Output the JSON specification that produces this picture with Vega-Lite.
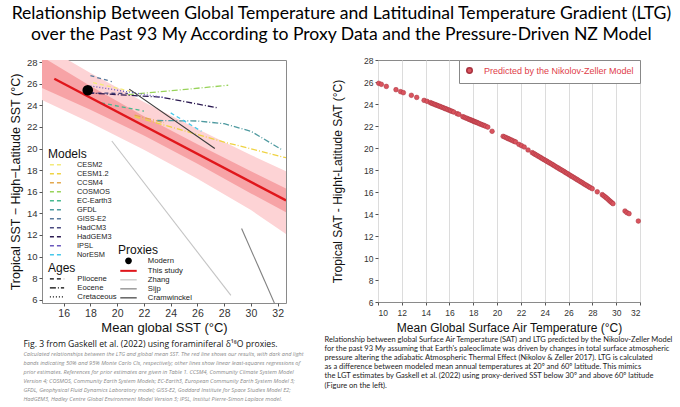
{
  "$schema": "https://vega.github.io/schema/vega-lite/v6.json",
  "background": "white",
  "padding": {"left": 8, "top": 4, "right": 4, "bottom": 0},
  "title": {
    "text": ["Relationship Between Global Temperature and Latitudinal Temperature Gradient (LTG)", "over the Past 93 My According to Proxy Data and the Pressure-Driven NZ Model"],
    "font": "Lato", "fontSize": 17.6, "fontWeight": "normal", "color": "black", "lineHeight": 21, "anchor": "middle", "offset": 12
  },
  "config": {
    "font": "Liberation Sans",
    "view": {"stroke": "#8a8a8a"},
    "axis": {"grid": false, "domain": false, "labelOverlap": false, "titleFontWeight": "normal", "labelColor": "#333", "titleColor": "#111", "tickColor": "#555", "tickSize": 3},
    "legend": {"titleFontSize": 12, "titleFontWeight": "normal", "titleColor": "#111", "titlePadding": 0, "labelFontSize": 7.7, "labelColor": "#222", "symbolSize": 30, "rowPadding": 0, "padding": 0}
  },
  "datasets": {
    "band": [
      {"x": 14.38, "lo95": 24.5, "hi95": 29.6, "lo50": 25.6, "hi50": 28.5},
      {"x": 18, "lo95": 22.4, "hi95": 27.0, "lo50": 23.6, "hi50": 25.8},
      {"x": 22, "lo95": 19.9, "hi95": 24.3, "lo50": 21.2, "hi50": 23.0},
      {"x": 26, "lo95": 17.2, "hi95": 21.8, "lo50": 18.6, "hi50": 20.4},
      {"x": 30, "lo95": 14.3, "hi95": 19.4, "lo50": 15.85, "hi50": 17.9},
      {"x": 32.62, "lo95": 12.1, "hi95": 17.9, "lo50": 14.1, "hi50": 16.3}
    ]
  },
  "resolve": {"scale": {"color": "independent"}, "legend": {"color": "independent"}},
  "spacing": 19,
  "hconcat": [
    {
      "width": 244, "height": 243,
      "title": {
        "text": "Fig. 3 from Gaskell et al. (2022) using foraminiferal δ¹⁸O proxies.",
        "subtitle": [
          "Calculated relationships between the LTG and global mean SST. The red line shows our results, with dark and light",
          "bands indicating 50% and 95% Monte Carlo CIs, respectively; other lines show linear least-squares regressions of",
          "prior estimates. References for prior estimates are given in Table 1. CCSM4, Community Climate System Model",
          "Version 4; COSMOS, Community Earth System Models; EC-Earth3, European Community Earth System Model 3;",
          "GFDL, Geophysical Fluid Dynamics Laboratory model; GISS-E2, Goddard Institute for Space Studies Model E2;",
          "HadGEM3, Hadley Centre Global Environment Model Version 3; IPSL, Institut Pierre-Simon Laplace model."
        ],
        "orient": "bottom", "anchor": "start", "frame": "bounds", "dx": 14, "offset": 5,
        "font": "Open Sans", "fontSize": 8.6, "fontWeight": "normal", "color": "#111",
        "subtitleFont": "Open Sans", "subtitleFontSize": 5.6, "subtitleFontStyle": "italic", "subtitleColor": "#8a8a8a", "subtitleLineHeight": 9, "subtitlePadding": 4
      },
      "layer": [
        {
          "data": {"name": "band"},
          "mark": {"type": "area", "color": "#fdd3d5", "clip": true},
          "encoding": {
            "x": {"field": "x", "type": "quantitative", "scale": {"domain": [14.38, 32.62], "nice": false, "zero": false}, "axis": {"values": [16, 18, 20, 22, 24, 26, 28, 30, 32], "format": "d", "tickCount": 30, "labelOverlap": false, "title": "Mean global SST (°C)", "labelFontSize": 10.5, "titleFontSize": 13, "labelPadding": 2, "titlePadding": 3}},
            "y": {"field": "lo95", "type": "quantitative", "scale": {"domain": [5.7, 28.2], "nice": false, "zero": false}, "axis": {"values": [6, 8, 10, 12, 14, 16, 18, 20, 22, 24, 26, 28], "format": "d", "tickCount": 30, "labelOverlap": false, "title": "Tropical SST − High−Latitude SST (°C)", "labelFontSize": 9.5, "titleFontSize": 12.5, "labelPadding": 2, "titlePadding": 4}},
            "y2": {"field": "hi95"}
          }
        },
        {
          "data": {"name": "band"},
          "mark": {"type": "area", "color": "#f7a3a6", "clip": true},
          "encoding": {
            "x": {"field": "x", "type": "quantitative"},
            "y": {"field": "lo50", "type": "quantitative"},
            "y2": {"field": "hi50"}
          }
        },
        {
          "data": {"values": [
            {"model": "GISS-E2", "age": "Pliocene", "x": 18.0, "y": 26.75},
            {"model": "GISS-E2", "age": "Pliocene", "x": 19.6, "y": 26.2},
            {"model": "CESM2", "age": "Pliocene", "x": 18.2, "y": 26.1},
            {"model": "CESM2", "age": "Pliocene", "x": 21.0, "y": 25.3},
            {"model": "CESM1.2", "age": "Eocene", "x": 21.3, "y": 22.95},
            {"model": "CESM1.2", "age": "Eocene", "x": 24.0, "y": 22.0},
            {"model": "CESM1.2", "age": "Eocene", "x": 28.0, "y": 20.6},
            {"model": "CESM1.2", "age": "Eocene", "x": 32.62, "y": 19.15},
            {"model": "CCSM4", "age": "Eocene", "x": 21.3, "y": 23.1},
            {"model": "CCSM4", "age": "Eocene", "x": 23.5, "y": 22.4},
            {"model": "COSMOS", "age": "Eocene", "x": 20.8, "y": 25.0},
            {"model": "COSMOS", "age": "Eocene", "x": 24.0, "y": 25.35},
            {"model": "COSMOS", "age": "Eocene", "x": 28.3, "y": 25.86},
            {"model": "EC-Earth3", "age": "Pliocene", "x": 18.8, "y": 24.23},
            {"model": "EC-Earth3", "age": "Pliocene", "x": 22.0, "y": 23.47},
            {"model": "GFDL", "age": "Eocene", "x": 23.0, "y": 22.6},
            {"model": "GFDL", "age": "Eocene", "x": 26.0, "y": 22.55},
            {"model": "GFDL", "age": "Eocene", "x": 28.0, "y": 22.3},
            {"model": "GFDL", "age": "Eocene", "x": 30.0, "y": 21.6},
            {"model": "GFDL", "age": "Eocene", "x": 32.3, "y": 19.9},
            {"model": "HadCM3", "age": "Pliocene", "x": 18.0, "y": 25.15},
            {"model": "HadCM3", "age": "Pliocene", "x": 20.8, "y": 25.1},
            {"model": "HadGEM3", "age": "Eocene", "x": 17.8, "y": 25.15},
            {"model": "HadGEM3", "age": "Eocene", "x": 23.3, "y": 24.76},
            {"model": "HadGEM3", "age": "Eocene", "x": 27.5, "y": 23.77},
            {"model": "IPSL", "age": "Cretaceous", "x": 18.0, "y": 25.8},
            {"model": "IPSL", "age": "Cretaceous", "x": 23.6, "y": 24.7},
            {"model": "NorESM", "age": "Pliocene", "x": 24.0, "y": 23.3},
            {"model": "NorESM", "age": "Pliocene", "x": 26.3, "y": 21.6}
          ]},
          "mark": {"type": "line", "strokeWidth": 1.3, "clip": true},
          "encoding": {
            "x": {"field": "x", "type": "quantitative"},
            "y": {"field": "y", "type": "quantitative"},
            "color": {
              "field": "model", "type": "nominal",
              "scale": {
                "domain": ["CESM2", "CESM1.2", "CCSM4", "COSMOS", "EC-Earth3", "GFDL", "GISS-E2", "HadCM3", "HadGEM3", "IPSL", "NorESM"],
                "range": ["#f3ea7a", "#efd343", "#e3a84e", "#98d35a", "#46b88f", "#4f9aa0", "#587a9c", "#4a4a80", "#2c1b52", "#6a58bd", "#45c8ea"]
              },
              "legend": {"orient": "none", "legendX": 6, "legendY": 89, "title": "Models", "labelFontSize": 7.4, "symbolType": "M-2.4,0L2.4,0", "symbolDash": [4, 3], "symbolStrokeWidth": 1.5, "symbolFillColor": "transparent", "symbolOffset": 4.8, "labelOffset": 16.8}
            },
            "strokeDash": {
              "field": "age", "type": "nominal",
              "scale": {"domain": ["Pliocene", "Eocene", "Cretaceous"], "range": [[4, 3], [6, 2, 1, 2], [1, 2]]},
              "legend": {"orient": "none", "legendX": 6, "legendY": 203, "title": "Ages", "symbolType": "M-2.6,0L2.6,0", "symbolStrokeColor": "black", "symbolStrokeWidth": 1.2, "symbolFillColor": "transparent", "symbolOffset": 5.15, "labelOffset": 16.5}
            },
            "detail": {"field": "model"}
          }
        },
        {
          "data": {"values": [
            {"proxy": "This study", "x": 15.3, "y": 26.47},
            {"proxy": "This study", "x": 32.62, "y": 15.2},
            {"proxy": "Zhang", "x": 19.6, "y": 20.7},
            {"proxy": "Zhang", "x": 28.5, "y": 6.4},
            {"proxy": "Sijp", "x": 29.3, "y": 12.6},
            {"proxy": "Sijp", "x": 31.75, "y": 5.7},
            {"proxy": "Cramwinckel", "x": 20.9, "y": 25.5},
            {"proxy": "Cramwinckel", "x": 27.3, "y": 20.0}
          ]},
          "mark": {"type": "line", "clip": true},
          "encoding": {
            "x": {"field": "x", "type": "quantitative"},
            "y": {"field": "y", "type": "quantitative"},
            "stroke": {
              "field": "proxy", "type": "nominal",
              "scale": {"domain": ["Modern", "This study", "Zhang", "Sijp", "Cramwinckel"], "range": ["black", "#e0161b", "#c4c4c4", "#808080", "#3a3a3a"]},
              "legend": {
                "orient": "none", "legendX": 76, "legendY": 185, "title": "Proxies", "symbolType": "M-3,0L3,0", "symbolStrokeWidth": 1.3, "symbolOffset": 6.65, "labelOffset": 15.5,
                "encode": {"symbols": {"update": {
                  "shape": {"signal": "datum.value === 'Modern' ? 'circle' : 'M-3,0L3,0'"},
                  "fill": {"signal": "datum.value === 'Modern' ? 'black' : 'transparent'"},
                  "strokeWidth": {"signal": "datum.value === 'This study' ? 2 : 1.2"}
                }}}
              }
            },
            "strokeWidth": {"condition": {"test": "datum.proxy === 'This study'", "value": 2.3}, "value": 1.1}
          }
        },
        {
          "data": {"values": [{"proxy": "Modern", "x": 17.8, "y": 25.4}]},
          "mark": {"type": "point", "filled": true, "fill": "black", "size": 75, "opacity": 1},
          "encoding": {
            "x": {"field": "x", "type": "quantitative"},
            "y": {"field": "y", "type": "quantitative"},
            "stroke": {"field": "proxy", "type": "nominal"}
          }
        }
      ]
    },
    {
      "width": 262, "height": 242,
      "title": {
        "text": [
          "Relationship between global Surface Air Temperature (SAT) and LTG predicted by the Nikolov-Zeller Model",
          "for the past 93 My assuming that Earth's paleoclimate was driven by changes in total surface atmospheric",
          "pressure altering the adiabatic Atmospheric Thermal Effect (Nikolov & Zeller 2017). LTG is calculated",
          "as a difference between modeled mean annual temperatures at 20º and 60º latitude. This mimics",
          "the LGT estimates by Gaskell et al. (2022) using proxy-derived SST below 30º and above 60º latitude",
          "(Figure on the left)."
        ],
        "orient": "bottom", "anchor": "start", "frame": "bounds", "dx": -7, "offset": 2,
        "font": "Lato", "fontSize": 7.5, "fontWeight": "normal", "color": "#222", "lineHeight": 9.2
      },
      "data": {"values": [
        {"x": 10.06, "y": 25.88}, {"x": 10.28, "y": 25.79}, {"x": 10.7, "y": 25.6}, {"x": 11.51, "y": 25.3}, {"x": 11.9, "y": 25.12},
        {"x": 12.13, "y": 25.03}, {"x": 12.8, "y": 24.79}, {"x": 13.25, "y": 24.6}, {"x": 13.87, "y": 24.33}, {"x": 14.12, "y": 24.24},
        {"x": 14.4, "y": 24.12}, {"x": 14.52, "y": 24.07}, {"x": 14.62, "y": 24.02}, {"x": 14.75, "y": 23.97}, {"x": 14.86, "y": 23.92},
        {"x": 14.98, "y": 23.87}, {"x": 15.1, "y": 23.82}, {"x": 15.22, "y": 23.77}, {"x": 15.35, "y": 23.71}, {"x": 15.48, "y": 23.66},
        {"x": 15.6, "y": 23.6}, {"x": 15.72, "y": 23.55}, {"x": 15.85, "y": 23.49}, {"x": 15.98, "y": 23.44}, {"x": 16.1, "y": 23.38},
        {"x": 16.22, "y": 23.33}, {"x": 16.36, "y": 23.27}, {"x": 16.64, "y": 23.12}, {"x": 16.79, "y": 23.06},
        {"x": 17.12, "y": 22.85}, {"x": 17.25, "y": 22.79}, {"x": 17.38, "y": 22.73}, {"x": 17.5, "y": 22.68}, {"x": 17.62, "y": 22.62},
        {"x": 17.72, "y": 22.58}, {"x": 17.82, "y": 22.53}, {"x": 17.92, "y": 22.49}, {"x": 18.0, "y": 22.45}, {"x": 18.08, "y": 22.41},
        {"x": 18.16, "y": 22.38}, {"x": 18.25, "y": 22.34}, {"x": 18.34, "y": 22.3}, {"x": 18.44, "y": 22.25}, {"x": 18.55, "y": 22.2},
        {"x": 18.68, "y": 22.14}, {"x": 18.8, "y": 22.09}, {"x": 18.92, "y": 22.04}, {"x": 19.05, "y": 21.98}, {"x": 19.22, "y": 21.9},
        {"x": 19.58, "y": 21.52},
        {"x": 20.51, "y": 21.06}, {"x": 20.65, "y": 21.0}, {"x": 20.78, "y": 20.93}, {"x": 20.9, "y": 20.87}, {"x": 21.02, "y": 20.81},
        {"x": 21.15, "y": 20.75}, {"x": 21.28, "y": 20.68}, {"x": 21.42, "y": 20.61}, {"x": 21.55, "y": 20.55},
        {"x": 21.83, "y": 20.33}, {"x": 22.05, "y": 20.21}, {"x": 22.28, "y": 20.09}, {"x": 22.6, "y": 19.82},
        {"x": 22.95, "y": 19.58}, {"x": 23.08, "y": 19.5}, {"x": 23.2, "y": 19.42}, {"x": 23.32, "y": 19.34}, {"x": 23.45, "y": 19.26},
        {"x": 23.58, "y": 19.18}, {"x": 23.7, "y": 19.1}, {"x": 23.82, "y": 19.02}, {"x": 23.95, "y": 18.94}, {"x": 24.08, "y": 18.86},
        {"x": 24.2, "y": 18.78}, {"x": 24.32, "y": 18.7}, {"x": 24.45, "y": 18.62}, {"x": 24.58, "y": 18.54}, {"x": 24.7, "y": 18.46},
        {"x": 24.82, "y": 18.38}, {"x": 24.95, "y": 18.29}, {"x": 25.08, "y": 18.21}, {"x": 25.2, "y": 18.13}, {"x": 25.32, "y": 18.05},
        {"x": 25.45, "y": 17.97}, {"x": 25.58, "y": 17.89}, {"x": 25.7, "y": 17.8}, {"x": 25.82, "y": 17.72}, {"x": 25.95, "y": 17.64},
        {"x": 26.08, "y": 17.55}, {"x": 26.2, "y": 17.47}, {"x": 26.32, "y": 17.39}, {"x": 26.45, "y": 17.31}, {"x": 26.58, "y": 17.22},
        {"x": 26.7, "y": 17.14}, {"x": 26.82, "y": 17.06}, {"x": 26.95, "y": 16.97}, {"x": 27.08, "y": 16.89}, {"x": 27.2, "y": 16.81},
        {"x": 27.32, "y": 16.72}, {"x": 27.45, "y": 16.64}, {"x": 27.58, "y": 16.56}, {"x": 27.7, "y": 16.48}, {"x": 27.82, "y": 16.4},
        {"x": 27.99, "y": 16.3}, {"x": 28.41, "y": 16.02},
        {"x": 28.83, "y": 15.76}, {"x": 28.95, "y": 15.66}, {"x": 29.07, "y": 15.56}, {"x": 29.18, "y": 15.46}, {"x": 29.3, "y": 15.35},
        {"x": 29.42, "y": 15.23}, {"x": 29.52, "y": 15.13}, {"x": 29.62, "y": 15.04}, {"x": 29.73, "y": 14.94},
        {"x": 30.74, "y": 14.27}, {"x": 30.9, "y": 14.12}, {"x": 31.08, "y": 14.03}, {"x": 31.86, "y": 13.36}
      ]},
      "mark": {"type": "point", "filled": true, "size": 22, "stroke": "#a8323f", "strokeWidth": 0.5, "opacity": 1},
      "encoding": {
        "x": {"field": "x", "type": "quantitative", "scale": {"domain": [10, 32], "nice": false, "zero": false},
              "axis": {"values": [10, 12, 14, 16, 18, 20, 22, 24, 26, 28, 30, 32], "labelOverlap": false, "grid": true, "gridColor": "#dcdcdc", "title": "Mean Global Surface Air Temperature (°C)", "labelFontSize": 8.5, "titleFontSize": 12, "titlePadding": 6, "labelPadding": 3}},
        "y": {"field": "y", "type": "quantitative", "scale": {"domain": [6, 28], "nice": false, "zero": false},
              "axis": {"values": [6, 8, 10, 12, 14, 16, 18, 20, 22, 24, 26, 28], "labelOverlap": false, "title": "Tropical SAT - Hight-Latitude SAT (°C)", "labelFontSize": 8.5, "titleFontSize": 12, "titlePadding": 19, "labelPadding": 2}},
        "color": {
          "datum": "Predicted by the Nikolov-Zeller Model",
          "scale": {"range": ["#d9545e"]},
          "legend": {"orient": "top-right", "offset": 0, "title": null, "strokeColor": "#888", "fillColor": "white", "padding": 6, "labelColor": "#e0404a", "labelFontSize": 9, "symbolSize": 30, "labelOffset": 10, "symbolStrokeColor": "#a8323f"}
        }
      }
    }
  ]
}
